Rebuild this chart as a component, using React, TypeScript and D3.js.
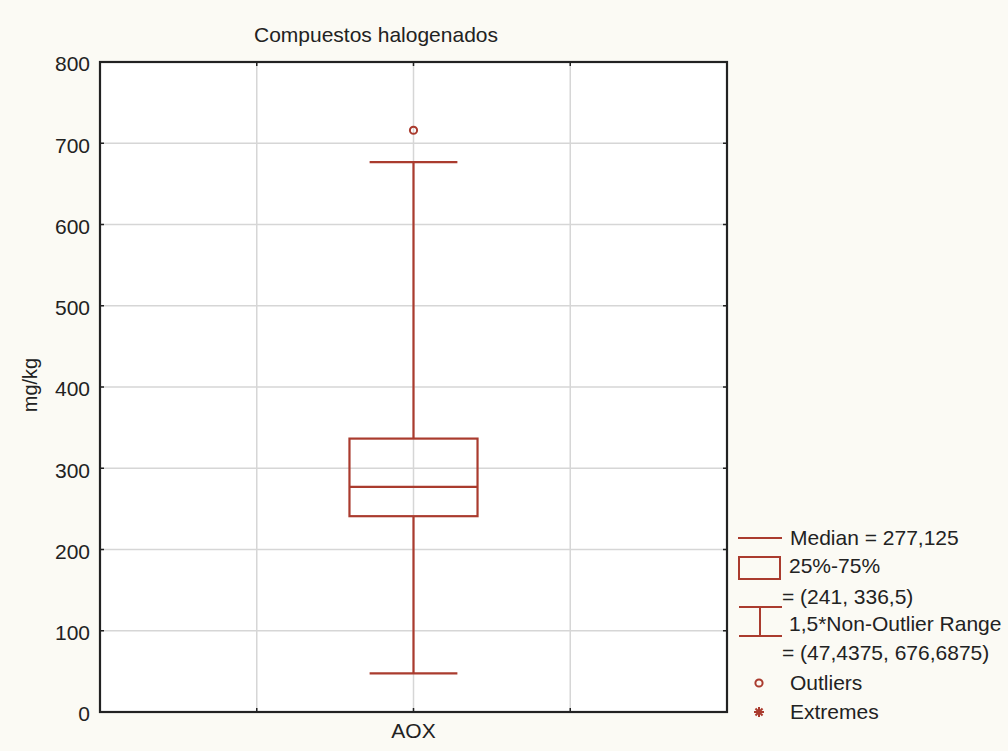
import * as d3 from "d3";
import { useEffect, useRef } from "react";

const WIDTH = 1008;
const HEIGHT = 751;
const MARGIN = { top: 62, right: 281, bottom: 39, left: 100 };

const TITLE = "Compuestos halogenados";
const Y_LABEL = "mg/kg";
const categories = ["AOX"];
const medians = [277.125];
const q1 = [241];
const q3 = [336.5];
const whiskerLow = [47.4375];
const whiskerHigh = [676.6875];
const outliers = [[716]];
const yTicks = [0, 100, 200, 300, 400, 500, 600, 700, 800];

const legendLines = [
  "Median = 277,125",
  "25%-75%",
  "= (241, 336,5)",
  "1,5*Non-Outlier Range",
  "= (47,4375, 676,6875)",
  "Outliers",
  "Extremes",
];

const RED = "#aa3b2e";
const FONT = "'Liberation Sans', Arial, sans-serif";

export default function App() {
  const ref = useRef<SVGSVGElement>(null);

  useEffect(() => {
    const svg = d3.select(ref.current);
    svg.selectAll("*").remove();

    const x0 = MARGIN.left;
    const x1 = WIDTH - MARGIN.right;
    const y0 = HEIGHT - MARGIN.bottom;
    const y1 = MARGIN.top;

    svg
      .append("rect")
      .attr("width", WIDTH)
      .attr("height", HEIGHT)
      .attr("fill", "#fbfaf4");

    // category positions: AOX at the middle of 4 equal columns
    const x = d3.scaleLinear().domain([0, 4]).range([x0, x1]);
    const y = d3.scaleLinear().domain([0, 800]).range([y0, y1]);

    svg
      .append("rect")
      .attr("x", x0)
      .attr("y", y1)
      .attr("width", x1 - x0)
      .attr("height", y0 - y1)
      .attr("fill", "#ffffff");

    const grid = svg.append("g").attr("stroke", "#d6d6d6").attr("stroke-width", 1.5);
    grid
      .selectAll("line.h")
      .data(yTicks.slice(1, -1))
      .enter()
      .append("line")
      .attr("x1", x0)
      .attr("x2", x1)
      .attr("y1", (d) => y(d))
      .attr("y2", (d) => y(d));
    grid
      .selectAll("line.v")
      .data([1, 2, 3])
      .enter()
      .append("line")
      .attr("x1", (d) => x(d))
      .attr("x2", (d) => x(d))
      .attr("y1", y1)
      .attr("y2", y0);

    // ticks (inward)
    const ticks = svg.append("g").attr("stroke", "#222").attr("stroke-width", 1.5);
    yTicks.forEach((t) => {
      ticks.append("line").attr("x1", x0).attr("x2", x0 + 4).attr("y1", y(t)).attr("y2", y(t));
      ticks.append("line").attr("x1", x1).attr("x2", x1 - 4).attr("y1", y(t)).attr("y2", y(t));
    });
    [1, 2, 3].forEach((t) => {
      ticks.append("line").attr("x1", x(t)).attr("x2", x(t)).attr("y1", y1).attr("y2", y1 + 4);
      ticks.append("line").attr("x1", x(t)).attr("x2", x(t)).attr("y1", y0).attr("y2", y0 - 4);
    });

    svg
      .append("rect")
      .attr("x", x0)
      .attr("y", y1)
      .attr("width", x1 - x0)
      .attr("height", y0 - y1)
      .attr("fill", "none")
      .attr("stroke", "#222")
      .attr("stroke-width", 2.2);

    // tick labels
    svg
      .append("g")
      .selectAll("text")
      .data(yTicks)
      .enter()
      .append("text")
      .attr("x", x0 - 10)
      .attr("y", (d) => y(d) + 2)
      .attr("dy", "0.35em")
      .attr("text-anchor", "end")
      .attr("fill", "#222")
      .style("font-family", FONT)
      .style("font-size", "21px")
      .text((d) => d);

    svg
      .append("text")
      .attr("x", x(2))
      .attr("y", y0 + 26)
      .attr("text-anchor", "middle")
      .attr("fill", "#222")
      .style("font-family", FONT)
      .style("font-size", "21px")
      .text(categories[0]);

    svg
      .append("text")
      .attr("x", 376)
      .attr("y", 42)
      .attr("text-anchor", "middle")
      .attr("fill", "#222")
      .style("font-family", FONT)
      .style("font-size", "21px")
      .text(TITLE);

    svg
      .append("text")
      .attr("transform", `translate(37, 385) rotate(-90)`)
      .attr("text-anchor", "middle")
      .attr("fill", "#222")
      .style("font-family", FONT)
      .style("font-size", "20px")
      .text(Y_LABEL);

    // box plot
    const boxW = 0.817;
    const capW = 0.56;
    const box = svg.append("g").attr("stroke", RED).attr("stroke-width", 2.2).attr("fill", "none");
    categories.forEach((c, i) => {
      const cx = x(2 + i);
      const hw = (x(boxW) - x(0)) / 2;
      const cw = (x(capW) - x(0)) / 2;
      box.append("line").attr("x1", cx).attr("x2", cx).attr("y1", y(q3[i])).attr("y2", y(whiskerHigh[i]));
      box.append("line").attr("x1", cx).attr("x2", cx).attr("y1", y(q1[i])).attr("y2", y(whiskerLow[i]));
      box.append("line").attr("x1", cx - cw).attr("x2", cx + cw).attr("y1", y(whiskerHigh[i])).attr("y2", y(whiskerHigh[i]));
      box.append("line").attr("x1", cx - cw).attr("x2", cx + cw).attr("y1", y(whiskerLow[i])).attr("y2", y(whiskerLow[i]));
      box
        .append("rect")
        .attr("x", cx - hw)
        .attr("y", y(q3[i]))
        .attr("width", hw * 2)
        .attr("height", y(q1[i]) - y(q3[i]));
      box.append("line").attr("x1", cx - hw).attr("x2", cx + hw).attr("y1", y(medians[i])).attr("y2", y(medians[i]));
      outliers[i].forEach((o) => {
        box.append("circle").attr("cx", cx).attr("cy", y(o)).attr("r", 3.6).attr("stroke-width", 2);
      });
    });

    // legend
    const lg = svg.append("g");
    const rowY = [538, 566, 597, 624, 653, 683, 712];
    const rowX = [790, 789, 782, 789, 782, 790, 790];
    lg.selectAll("text")
      .data(legendLines)
      .enter()
      .append("text")
      .attr("x", (_, i) => rowX[i])
      .attr("y", (_, i) => rowY[i])
      .attr("dy", "0.35em")
      .attr("fill", "#222")
      .style("font-family", FONT)
      .style("font-size", "21px")
      .text((d) => d);

    const sym = lg.append("g").attr("stroke", RED).attr("stroke-width", 2).attr("fill", "none");
    sym.append("line").attr("x1", 738).attr("x2", 782).attr("y1", 538).attr("y2", 538);
    sym.append("rect").attr("x", 739).attr("y", 557).attr("width", 41).attr("height", 22);
    sym.append("line").attr("x1", 739).attr("x2", 782).attr("y1", 607).attr("y2", 607);
    sym.append("line").attr("x1", 739).attr("x2", 782).attr("y1", 636).attr("y2", 636);
    sym.append("line").attr("x1", 760).attr("x2", 760).attr("y1", 607).attr("y2", 636);
    sym.append("circle").attr("cx", 759).attr("cy", 683).attr("r", 3.6);
    [0, 45, 90, 135].forEach((a) => {
      const r = 5;
      const rad = (a * Math.PI) / 180;
      sym
        .append("line")
        .attr("x1", 759 - r * Math.cos(rad))
        .attr("x2", 759 + r * Math.cos(rad))
        .attr("y1", 712 - r * Math.sin(rad))
        .attr("y2", 712 + r * Math.sin(rad));
    });
  }, []);

  return (
    <svg
      ref={ref}
      width={WIDTH}
      height={HEIGHT}
      style={{ position: "absolute", left: 0, top: 0, display: "block" }}
    />
  );
}
